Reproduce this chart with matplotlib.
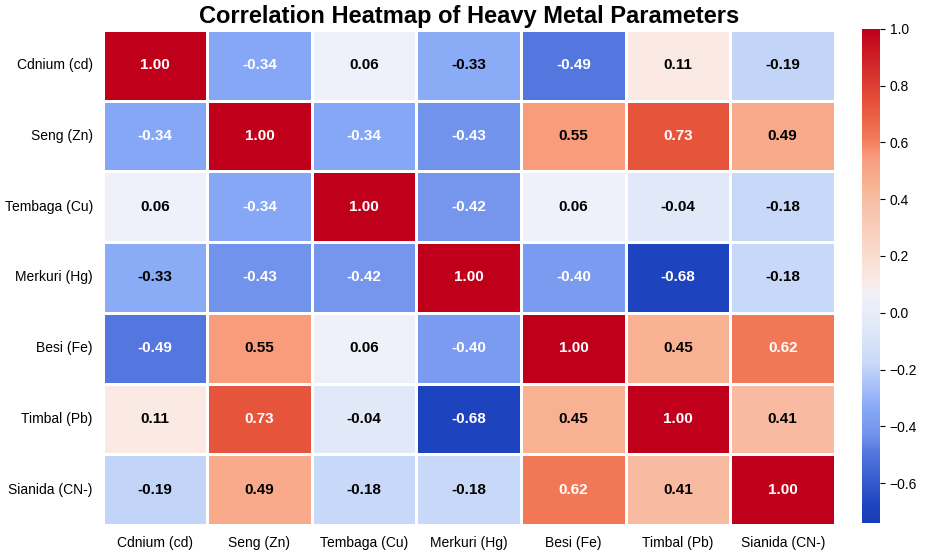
import numpy as np
import matplotlib
matplotlib.use("Agg")
import matplotlib.pyplot as plt
from matplotlib.colors import LinearSegmentedColormap, Normalize
import seaborn as sns

labels = ["Cdnium (cd)", "Seng (Zn)", "Tembaga (Cu)", "Merkuri (Hg)",
          "Besi (Fe)", "Timbal (Pb)", "Sianida (CN-)"]

corr = np.array([
    [1.00, -0.34, 0.06, -0.33, -0.49, 0.11, -0.19],
    [-0.34, 1.00, -0.34, -0.43, 0.55, 0.73, 0.49],
    [0.06, -0.34, 1.00, -0.42, 0.06, -0.04, -0.18],
    [-0.33, -0.43, -0.42, 1.00, -0.40, -0.68, -0.18],
    [-0.49, 0.55, 0.06, -0.40, 1.00, 0.45, 0.62],
    [0.11, 0.73, -0.04, -0.68, 0.45, 1.00, 0.41],
    [-0.19, 0.49, -0.18, -0.18, 0.62, 0.41, 1.00],
])

vmin, vmax = -0.74, 1.0

# coolwarm, but with the brighter/more saturated look of the reference
stops = [-0.74, -0.68, -0.49, -0.43, -0.34, -0.18, -0.04, 0.06, 0.11,
         0.41, 0.45, 0.55, 0.62, 0.73, 1.00]
stop_colors = ["#1a3cb8", "#1e44c0", "#5478e0", "#7494ec", "#86a8f6",
               "#c8d8f8", "#e2eaf8", "#eef0fa", "#faeae4",
               "#f8bca2", "#f8b294", "#f89c7c", "#f27858", "#e8553c", "#c0001a"]
pos = [(s - vmin) / (vmax - vmin) for s in stops]
cmap = LinearSegmentedColormap.from_list("cw_bright", list(zip(pos, stop_colors)))

plt.rcParams['font.family'] = ['Liberation Sans', 'DejaVu Sans']

fig = plt.figure(figsize=(9.32, 5.55), dpi=100)
ax = fig.add_axes([0.110, 0.054, 0.786, 0.892])
cax = fig.add_axes([0.925, 0.058, 0.019, 0.89])

sns.heatmap(corr, annot=False, cmap=cmap, vmin=vmin, vmax=vmax,
            linewidths=1, linecolor="white", ax=ax, cbar_ax=cax,
            xticklabels=labels, yticklabels=labels)

# annotation colour picked like seaborn does with plain coolwarm
norm = Normalize(vmin, vmax)
for i in range(corr.shape[0]):
    for j in range(corr.shape[1]):
        lum = sns.utils.relative_luminance(plt.cm.coolwarm(norm(corr[i, j])))
        col = "black" if lum > 0.408 else "white"
        ax.text(j + 0.5, i + 0.5, f"{corr[i, j]:.2f}", ha="center", va="center",
                fontsize=11, fontweight="bold", color=col)

ax.set_title("Correlation Heatmap of Heavy Metal Parameters", fontsize=17,
             fontweight="bold", pad=5)
ax.tick_params(axis='both', length=0, labelsize=10)
ax.tick_params(axis='y', pad=7)
ax.tick_params(axis='x', pad=8)
plt.setp(ax.get_xticklabels(), rotation=0)
plt.setp(ax.get_yticklabels(), rotation=0)
cax.tick_params(labelsize=10)
cax.set_yticks([-0.6, -0.4, -0.2, 0.0, 0.2, 0.4, 0.6, 0.8, 1.0])

fig.savefig("out.png", dpi=100)
